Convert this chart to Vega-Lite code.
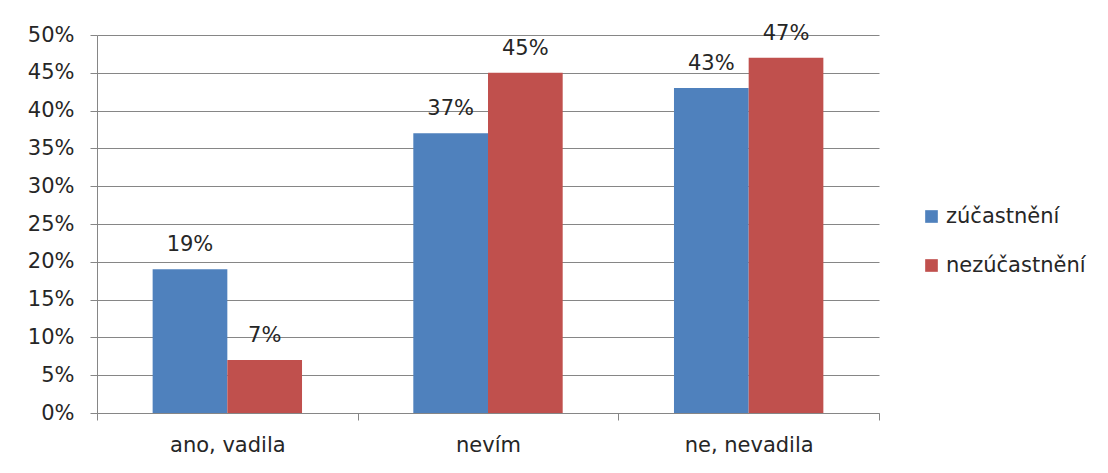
{
  "$schema": "https://vega.github.io/schema/vega-lite/v6.json",
  "width": 782,
  "height": 378,
  "autosize": {"type": "none"},
  "padding": {"left": 97, "top": 35, "right": 229, "bottom": 60},
  "background": "white",
  "config": {
    "view": {"stroke": null},
    "font": "DejaVu Sans",
    "axis": {
      "labelFont": "DejaVu Sans",
      "labelFontSize": 21,
      "labelColor": "#262626",
      "domainColor": "#868686",
      "tickColor": "#868686",
      "gridColor": "#868686",
      "tickSize": 7,
      "title": null
    },
    "legend": {
      "labelFont": "DejaVu Sans",
      "labelFontSize": 21,
      "labelColor": "#262626"
    }
  },
  "data": {
    "values": [
      {"kategorie": "ano, vadila", "skupina": "zúčastnění", "podil": 0.19},
      {"kategorie": "ano, vadila", "skupina": "nezúčastnění", "podil": 0.07},
      {"kategorie": "nevím", "skupina": "zúčastnění", "podil": 0.37},
      {"kategorie": "nevím", "skupina": "nezúčastnění", "podil": 0.45},
      {"kategorie": "ne, nevadila", "skupina": "zúčastnění", "podil": 0.43},
      {"kategorie": "ne, nevadila", "skupina": "nezúčastnění", "podil": 0.47}
    ]
  },
  "encoding": {
    "x": {
      "field": "kategorie",
      "type": "nominal",
      "sort": ["ano, vadila", "nevím", "ne, nevadila"],
      "scale": {"paddingInner": 0, "paddingOuter": 0},
      "axis": {
        "labelAngle": 0,
        "tickBand": "extent",
        "labelPadding": 14,
        "grid": false
      }
    },
    "xOffset": {
      "field": "skupina",
      "type": "nominal",
      "sort": ["zúčastnění", "nezúčastnění"],
      "scale": {"paddingInner": 0, "paddingOuter": 0.745}
    },
    "y": {
      "field": "podil",
      "type": "quantitative",
      "scale": {"domain": [0, 0.5], "nice": false},
      "axis": {
        "values": [0, 0.05, 0.1, 0.15, 0.2, 0.25, 0.3, 0.35, 0.4, 0.45, 0.5],
        "format": ".0%",
        "grid": true,
        "labelPadding": 16
      }
    }
  },
  "layer": [
    {
      "mark": {"type": "bar"},
      "encoding": {
        "color": {
          "field": "skupina",
          "type": "nominal",
          "sort": ["zúčastnění", "nezúčastnění"],
          "scale": {"domain": ["zúčastnění", "nezúčastnění"], "range": ["#4F81BD", "#C0504D"]},
          "legend": {
            "title": null,
            "orient": "none",
            "legendX": 824,
            "legendY": 171,
            "padding": 0,
            "symbolType": "square",
            "symbolSize": 160,
            "symbolStrokeWidth": 0,
            "symbolOpacity": 1,
            "labelOffset": 4,
            "rowPadding": 27
          }
        }
      }
    },
    {
      "mark": {"type": "text", "baseline": "alphabetic", "dy": -18, "fontSize": 21, "color": "#262626", "font": "DejaVu Sans"},
      "encoding": {
        "text": {"field": "podil", "type": "quantitative", "format": ".0%"}
      }
    }
  ]
}
